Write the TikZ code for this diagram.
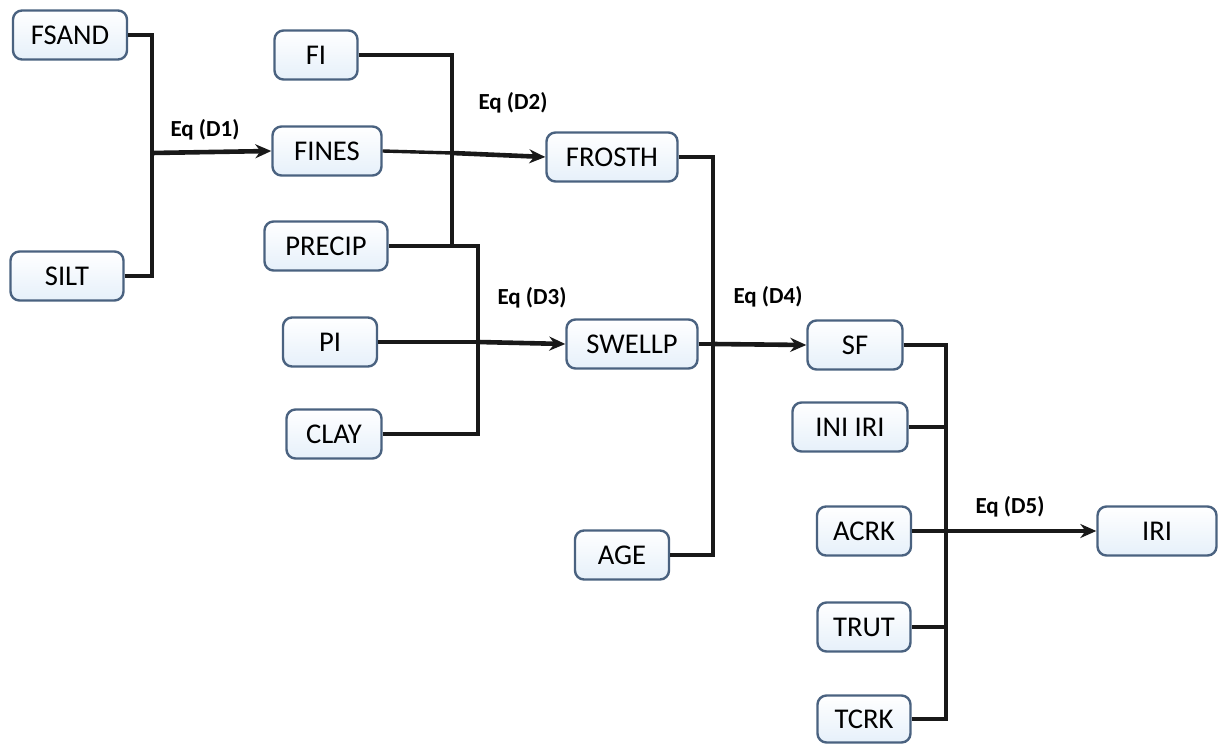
\documentclass[tikz,border=0pt]{standalone}
\usepackage{fontspec}
\setmainfont{Carlito}
\usetikzlibrary{arrows.meta}
\definecolor{boxborder}{HTML}{4A6280}
\definecolor{boxfill}{HTML}{E6F0FA}
\begin{document}
\begin{tikzpicture}[x=0.5pt,y=-0.5pt,
  box/.style={draw=boxborder,line width=1.2pt,rounded corners=4.5pt,
    top color=white,bottom color=boxfill,
    minimum height=24.5pt,inner sep=0pt,font=\fontsize{14.3}{16}\selectfont},
  wire/.style={line width=1.7pt,black!90},
  feed/.style={line width=2.3pt,black!90,-{Stealth[length=8pt,width=7pt]}},
  eq/.style={font=\bfseries\fontsize{11.5}{13}\selectfont}]
\useasboundingbox (0,0) rectangle (1218,743);
% nodes
\node[box,minimum width=57pt]   (fsand)  at (70,35)   {FSAND};
\node[box,minimum width=56.5pt] (silt)   at (67,276)  {SILT};
\node[box,minimum width=41.5pt] (fi)     at (316,55)  {FI};
\node[box,minimum width=54.5pt] (fines)  at (327,151) {FINES};
\node[box,minimum width=61.5pt] (precip) at (326,246) {PRECIP};
\node[box,minimum width=47pt]   (pi)     at (330,342) {PI};
\node[box,minimum width=47.5pt] (clay)   at (334,434) {CLAY};
\node[box,minimum width=65.5pt] (frosth) at (612,157) {FROSTH};
\node[box,minimum width=65.5pt] (swellp) at (632,344) {SWELLP};
\node[box,minimum width=47pt]   (age)    at (622,555) {AGE};
\node[box,minimum width=47.5pt] (sf)     at (855,345) {SF};
\node[box,minimum width=57.5pt] (iniiri) at (850,427) {INI IRI};
\node[box,minimum width=47pt]   (acrk)   at (864,531) {ACRK};
\node[box,minimum width=46.5pt] (trut)   at (864,627) {TRUT};
\node[box,minimum width=46.5pt,minimum height=23.5pt] (tcrk) at (864,719) {TCRK};
\node[box,minimum width=59.5pt] (iri)    at (1157,531) {IRI};
% junctions
\coordinate (j1) at (152,153);
\coordinate (j2) at (452,153);
\coordinate (j2b) at (452,246);
\coordinate (j3) at (478,342);
\coordinate (j4) at (713,344);
\coordinate (j5) at (946,531);
% D1
\draw[wire] (fsand.east) -| (j1);
\draw[wire] (silt.east) -| (j1);
\draw[feed] (j1) -- (fines.west);
% D2
\draw[wire] (fi.east) -| (j2b);
\draw[wire] (fines.east) -- (j2);
\draw[feed] (j2) -- (frosth.west);
% D3
\draw[wire] (precip.east) -| (j3);
\draw[wire] (clay.east) -| (j3);
\draw[wire] (pi.east) -- (j3);
\draw[feed] (j3) -- (swellp.west);
% D4
\draw[wire] (frosth.east) -| (j4);
\draw[wire] (age.east) -| (j4);
\draw[wire] (swellp.east) -- (j4);
\draw[feed] (j4) -- (sf.west);
% D5
\draw[wire] (sf.east) -| (j5);
\draw[wire] (tcrk.east) -| (j5);
\draw[wire] (iniiri.east) -- (iniiri.east -| j5);
\draw[wire] (trut.east) -- (trut.east -| j5);
\draw[wire] (acrk.east) -- (j5);
\draw[feed] (j5) -- (iri.west);
% labels
\node[eq] (l1) at (205,130) {Eq (D1)};
\node[eq] (l2) at (513,103) {Eq (D2)};
\node[eq] (l3) at (532,298) {Eq (D3)};
\node[eq] (l4) at (768,297) {Eq (D4)};
\node[eq] (l5) at (1010,507) {Eq (D5)};
\end{tikzpicture}
\end{document}
